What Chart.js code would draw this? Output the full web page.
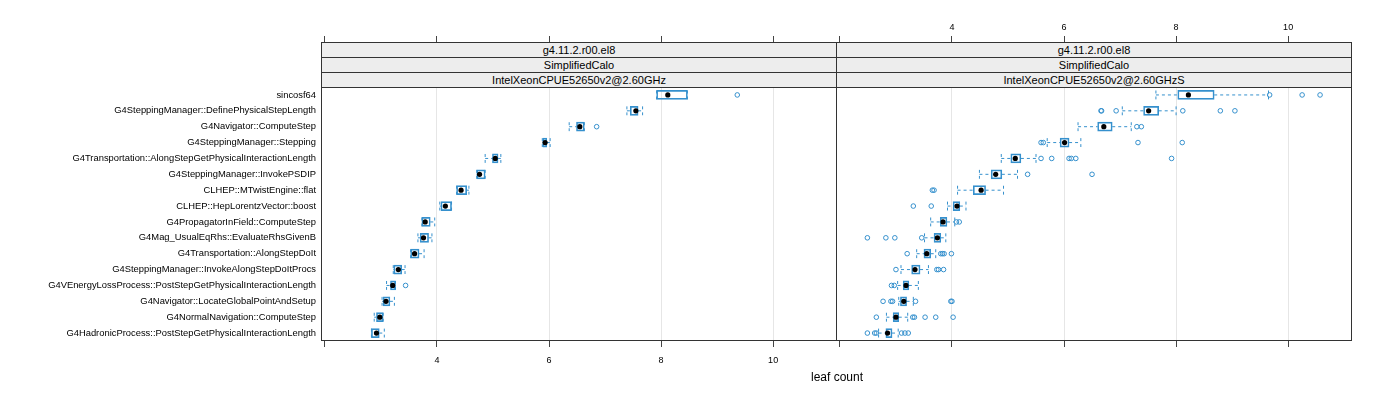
<!DOCTYPE html>
<html>
<head>
<meta charset="utf-8">
<script src="https://cdn.jsdelivr.net/npm/chart.js@4"></script>
<style>
  body { margin: 0; background: #fff; width: 1400px; height: 400px; position: relative; overflow: hidden;
         font-family: "Liberation Sans", Arial, sans-serif; }
  canvas { position: absolute; top: 0; }
  .strip { position: absolute; box-sizing: border-box; height: 16px; border: 1px solid #333; background: #ededed;
           font-size: 11px; line-height: 14px; text-align: center; color: #000; z-index: 2; white-space: nowrap; }
  #xlab { position: absolute; left: 737px; width: 200px; top: 370px; text-align: center; font-size: 12px; color: #000; }
</style>
</head>
<body>
<canvas id="left" width="837" height="400" style="left:0"></canvas>
<canvas id="right" width="516" height="400" style="left:836px"></canvas>

<div class="strip" style="left:321px;width:516px;top:42px">g4.11.2.r00.el8</div>
<div class="strip" style="left:321px;width:516px;top:57px">SimplifiedCalo</div>
<div class="strip" style="left:321px;width:516px;top:72px">IntelXeonCPUE52650v2@2.60GHz</div>
<div class="strip" style="left:836px;width:516px;top:42px">g4.11.2.r00.el8</div>
<div class="strip" style="left:836px;width:516px;top:57px">SimplifiedCalo</div>
<div class="strip" style="left:836px;width:516px;top:72px">IntelXeonCPUE52650v2@2.60GHzS</div>
<div id="xlab">leaf count</div>

<script>
// categories, top to bottom
const labels = [
    "sincosf64",
    "G4SteppingManager::DefinePhysicalStepLength",
    "G4Navigator::ComputeStep",
    "G4SteppingManager::Stepping",
    "G4Transportation::AlongStepGetPhysicalInteractionLength",
    "G4SteppingManager::InvokePSDIP",
    "CLHEP::MTwistEngine::flat",
    "CLHEP::HepLorentzVector::boost",
    "G4PropagatorInField::ComputeStep",
    "G4Mag_UsualEqRhs::EvaluateRhsGivenB",
    "G4Transportation::AlongStepDoIt",
    "G4SteppingManager::InvokeAlongStepDoItProcs",
    "G4VEnergyLossProcess::PostStepGetPhysicalInteractionLength",
    "G4Navigator::LocateGlobalPointAndSetup",
    "G4NormalNavigation::ComputeStep",
    "G4HadronicProcess::PostStepGetPhysicalInteractionLength"
];

// panel 1 : IntelXeonCPUE52650v2@2.60GHz
const leftLo  = [7.92, 7.39, 6.36, 5.88, 4.86, 4.71, 4.35, 4.05, 3.73, 3.66, 3.53, 3.22, 3.10, 3.02, 2.88, 2.83];
const leftQ1  = [7.92, 7.45, 6.49, 5.89, 4.99, 4.71, 4.35, 4.07, 3.73, 3.70, 3.53, 3.23, 3.17, 3.04, 2.92, 2.83];
const leftMed = [8.12, 7.55, 6.55, 5.93, 5.04, 4.76, 4.43, 4.15, 3.79, 3.76, 3.60, 3.31, 3.21, 3.09, 2.98, 2.92];
const leftQ3  = [8.47, 7.59, 6.63, 5.96, 5.09, 4.86, 4.53, 4.26, 3.88, 3.85, 3.68, 3.37, 3.26, 3.16, 3.04, 2.97];
const leftHi  = [8.47, 7.67, 6.63, 6.02, 5.14, 4.86, 4.57, 4.26, 3.96, 3.91, 3.77, 3.43, 3.26, 3.24, 3.04, 3.06];
const leftOut = [[9.36], [], [6.85], [], [], [], [], [], [], [], [], [], [3.44], [], [], []];

// panel 2 : IntelXeonCPUE52650v2@2.60GHzS
const rightLo  = [7.64, 7.04, 6.25, 5.70, 4.88, 4.49, 4.10, 3.92, 3.62, 3.51, 3.37, 3.09, 3.03, 3.05, 2.83, 2.69];
const rightQ1  = [8.03, 7.42, 6.60, 5.93, 5.05, 4.70, 4.38, 4.02, 3.79, 3.68, 3.50, 3.28, 3.13, 3.08, 2.95, 2.82];
const rightMed = [8.22, 7.51, 6.71, 6.01, 5.13, 4.78, 4.52, 4.09, 3.84, 3.74, 3.55, 3.34, 3.18, 3.14, 3.00, 2.85];
const rightQ3  = [8.68, 7.69, 6.86, 6.09, 5.23, 4.89, 4.60, 4.14, 3.91, 3.80, 3.62, 3.43, 3.23, 3.19, 3.05, 2.93];
const rightHi  = [9.65, 8.00, 7.20, 6.30, 5.50, 5.17, 4.92, 4.25, 4.05, 3.89, 3.71, 3.58, 3.40, 3.31, 3.21, 3.04];
const rightOut = [
    [9.67, 10.25, 10.57],
    [6.66, 6.67, 6.93, 8.12, 8.79, 9.05],
    [7.30, 7.38],
    [5.59, 5.63, 7.32, 8.11],
    [5.59, 5.78, 6.09, 6.13, 6.21, 7.92],
    [5.35, 6.50],
    [3.65, 3.68],
    [3.31, 3.63],
    [4.08, 4.13],
    [2.49, 2.82, 2.98, 3.46],
    [3.20, 3.80, 3.83, 3.86, 3.99],
    [3.00, 3.73, 3.76, 3.85],
    [2.92, 2.97],
    [2.77, 2.91, 2.94, 3.35, 3.98, 4.00],
    [2.65, 3.30, 3.33, 3.52, 3.71, 4.02],
    [2.49, 2.62, 2.65, 3.10, 3.16, 3.22]
];

const xTicks = [2, 4, 6, 8, 10];
const xMin = 1.93, xMax = 11.14;
const blue = "#3590cd";
const font = { family: "'Liberation Sans', Arial, sans-serif", size: 9 };
const yFont = { family: "'Liberation Sans', Arial, sans-serif", size: 9.4 };

// cadre du panneau
const borderPlugin = {
    id: "panelBorder",
    afterDraw(chart) {
        const a = chart.chartArea, ctx = chart.ctx;
        ctx.save();
        ctx.strokeStyle = "#333";
        ctx.lineWidth = 1;
        ctx.strokeRect(a.left + 0.5, a.top + 0.5, a.right - a.left - 1, a.bottom - a.top - 1);
        ctx.restore();
    }
};

function panel(id, lo, q1, med, q3, hi, out, side) {
    // whiskers + caps, separated by gaps
    const whisk = [];
    const gap = { x: null, y: null };
    labels.forEach((_, i) => {
        whisk.push({ x: lo[i], y: i }, { x: q1[i], y: i }, gap);
        whisk.push({ x: q3[i], y: i }, { x: hi[i], y: i }, gap);
        whisk.push({ x: lo[i], y: i - 0.28 }, { x: lo[i], y: i + 0.28 }, gap);
        whisk.push({ x: hi[i], y: i - 0.28 }, { x: hi[i], y: i + 0.28 }, gap);
    });
    const outPts = [];
    out.forEach((arr, i) => arr.forEach(v => outPts.push({ x: v, y: i })));

    const xCommon = {
        type: "linear", min: xMin, max: xMax, offset: false,
        afterBuildTicks: s => { s.ticks = xTicks.map(v => ({ value: v })); },
        border: { display: false }
    };

    new Chart(document.getElementById(id), {
        type: "bar",
        data: {
            datasets: [
                { type: "line", data: med.map((v, i) => ({ x: v, y: i })), showLine: false,
                  pointRadius: 2.6, pointBackgroundColor: "#000", pointBorderColor: "#000", pointBorderWidth: 0 },
                { type: "line", data: outPts, showLine: false, pointRadius: 2.3,
                  pointBackgroundColor: "rgba(0,0,0,0)", pointBorderColor: blue, pointBorderWidth: 1 },
                { type: "line", data: whisk, spanGaps: false, pointRadius: 0, borderColor: blue,
                  borderWidth: 1, borderDash: [3, 3] },
                { type: "bar", indexAxis: "y", data: q1.map((v, i) => ({ x: [v, q3[i]], y: i })),
                  barThickness: 9, backgroundColor: "rgba(0,0,0,0)", borderColor: blue,
                  borderWidth: 1, borderSkipped: false }
            ]
        },
        options: {
            responsive: false,
            animation: false,
            indexAxis: "y",
            layout: { padding: 0, autoPadding: false },
            plugins: { legend: { display: false }, tooltip: { enabled: false } },
            scales: {
                x: Object.assign({}, xCommon, {
                    position: "bottom",
                    afterFit: s => { s.height = 59; s.paddingLeft = 0; s.paddingRight = 0; },
                    grid: { display: true, offset: false, drawOnChartArea: true, drawTicks: true, tickLength: 6,
                            tickColor: "#444",
                            color: c => (c.tick && c.tick.value === 2) ? "rgba(0,0,0,0)" : "#e6e6e6" },
                    ticks: { font: font, color: "#000", padding: 8, autoSkip: false, maxRotation: 0,
                             callback: v => (side === "left" && v !== 2) ? v : "" }
                }),
                x2: Object.assign({}, xCommon, {
                    position: "top",
                    afterFit: s => { s.height = 87; s.paddingLeft = 0; s.paddingRight = 0; },
                    grid: { display: true, offset: false, drawOnChartArea: false, drawTicks: true, tickLength: 51,
                            tickColor: "#444" },
                    ticks: { font: font, color: "#000", padding: 3, autoSkip: false, maxRotation: 0,
                             callback: v => (side === "right" && v !== 2) ? v : "" }
                }),
                y: {
                    type: "linear", min: -0.5, max: 15.5, reverse: true, offset: false,
                    display: side === "left",
                    afterFit: s => { s.width = side === "left" ? 321 : 0; },
                    afterBuildTicks: s => { s.ticks = labels.map((_, i) => ({ value: i })); },
                    border: { display: false },
                    grid: { display: false, drawTicks: false, offset: false },
                    ticks: { font: yFont, color: "#000", padding: 5, autoSkip: false,
                             callback: v => labels[v] }
                }
            }
        },
        plugins: [borderPlugin]
    });
}

panel("left", leftLo, leftQ1, leftMed, leftQ3, leftHi, leftOut, "left");
panel("right", rightLo, rightQ1, rightMed, rightQ3, rightHi, rightOut, "right");
</script>
</body>
</html>
